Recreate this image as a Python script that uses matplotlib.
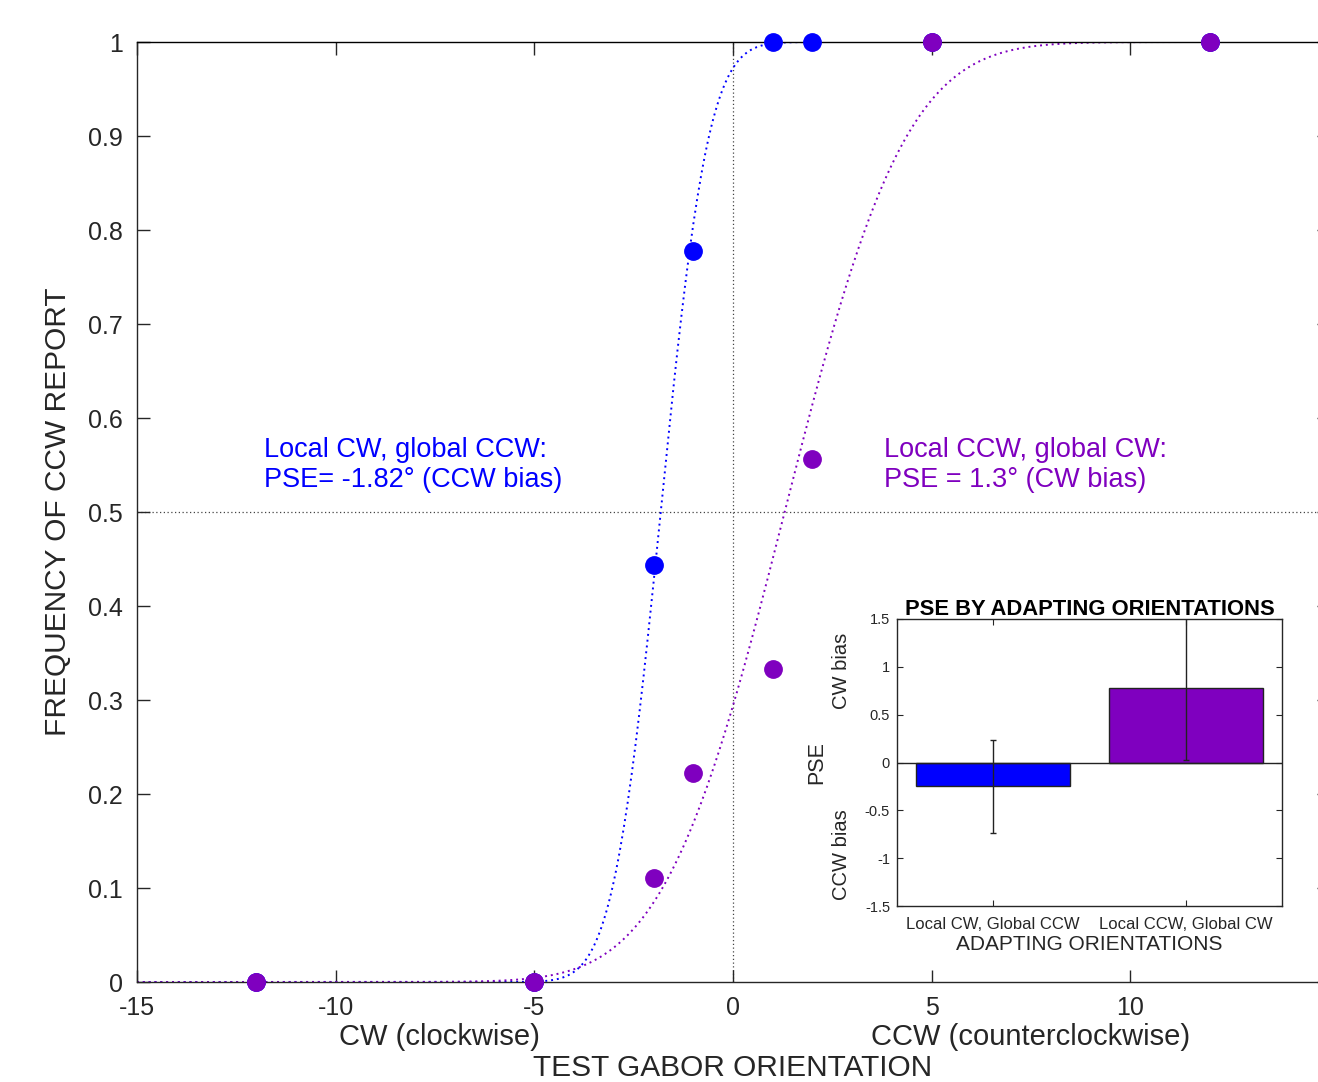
import math
import numpy as np
import matplotlib
matplotlib.use("Agg")
import matplotlib.pyplot as plt
from matplotlib.ticker import FuncFormatter
from matplotlib.transforms import blended_transform_factory

plt.rcParams['font.family'] = ['Liberation Sans', 'DejaVu Sans']
plt.rcParams['axes.unicode_minus'] = False

# test orientations (deg) and frequency of CCW reports
orient = [-12, -5, -2, -1, 1, 2, 5, 12]
freq_cw_adapt = [0, 0, 0.444, 0.778, 1, 1, 1, 1]      # local CW, global CCW
freq_ccw_adapt = [0, 0, 0.111, 0.222, 0.333, 0.556, 1, 1]  # local CCW, global CW

# fitted psychometric function parameters (PSE, slope)
pse_cw, sd_cw = -1.82, 0.95
pse_ccw, sd_ccw = 1.3, 2.4

# inset: mean PSE by adapting orientation
conds = ['Local CW, Global CCW', 'Local CCW, Global CW']
pse_mean = [-0.25, 0.78]
pse_err = [0.49, 0.75]

blue = '#0000FF'
purple = '#7F00BF'
gray = '#262626'


def cum_normal(x, mu, sd):
    return np.array([0.5 * (1 + math.erf((v - mu) / (sd * math.sqrt(2)))) for v in x])


fig = plt.figure(figsize=(13.18, 10.82), dpi=100)
ax = fig.add_axes([137 / 1318, 1 - 982 / 1082, (1329 - 137) / 1318, 940 / 1082])

xs = np.linspace(-15, 15, 601)
ax.axhline(0.5, color='#444444', lw=0.9, ls=(0, (1, 2)), zorder=1)
ax.axvline(0, color='#444444', lw=0.9, ls=(0, (1, 2)), zorder=1)
ax.plot(xs, cum_normal(xs, pse_cw, sd_cw), color=blue, lw=1.4, ls=(0, (1, 2)), zorder=2)
ax.plot(xs, cum_normal(xs, pse_ccw, sd_ccw), color=purple, lw=1.4, ls=(0, (1, 2)), zorder=2)
ax.plot(orient, freq_cw_adapt, 'o', color=blue, ms=12.5, zorder=3, clip_on=False)
ax.plot(orient, freq_ccw_adapt, 'o', color=purple, ms=12.5, zorder=4, clip_on=False)

ax.set_xlim(-15, 15)
ax.set_ylim(0, 1)
ax.set_xticks([-15, -10, -5, 0, 5, 10])
ax.set_yticks(np.arange(0, 1.01, 0.1))
ax.yaxis.set_major_formatter(FuncFormatter(lambda v, p: ('%g' % round(v, 1))))
ax.tick_params(direction='in', top=True, right=True, length=9, width=1,
               labelsize=18, colors=gray, pad=10)
for s in ax.spines.values():
    s.set_color(gray)
    s.set_linewidth(1)
ax.spines['top'].set_color('black')

ax.set_ylabel('FREQUENCY OF CCW REPORT', fontsize=21.5, color=gray, labelpad=12)

tr = blended_transform_factory(ax.transData, ax.transAxes)
ax.text(-7.4, -0.0585, 'CW (clockwise)', transform=tr, ha='center', va='center',
        fontsize=21, color=gray)
ax.text(7.5, -0.0585, 'CCW (counterclockwise)', transform=tr, ha='center', va='center',
        fontsize=21, color=gray)
ax.text(0, -0.0915, 'TEST GABOR ORIENTATION', transform=tr, ha='center', va='center',
        fontsize=21.5, color=gray)

ax.text(-11.8, 0.55, 'Local CW, global CCW:\nPSE= -1.82° (CCW bias)', color=blue,
        fontsize=19.5, ha='left', va='center', linespacing=1.2)
ax.text(3.8, 0.55, 'Local CCW, global CW:\nPSE = 1.3° (CW bias)', color=purple,
        fontsize=19.5, ha='left', va='center', linespacing=1.2)

# inset bar chart
ins = fig.add_axes([897 / 1318, 1 - 906 / 1082, 385 / 1318, 287 / 1082])
ins.bar([1, 2], pse_mean, width=0.8, color=[blue, purple], edgecolor='#222222', lw=1, zorder=2)
ins.errorbar([1, 2], pse_mean, yerr=pse_err, fmt='none', ecolor='#222222', elinewidth=1,
             capsize=2, zorder=3)
ins.axhline(0, color='#222222', lw=1, zorder=4)
ins.set_xlim(0.5, 2.5)
ins.set_ylim(-1.5, 1.5)
ins.set_xticks([1, 2])
ins.set_xticklabels(conds)
ins.set_yticks([-1.5, -1, -0.5, 0, 0.5, 1, 1.5])
ins.yaxis.set_major_formatter(FuncFormatter(lambda v, p: '%g' % v))
ins.tick_params(direction='in', top=True, right=True, length=4, width=0.8, colors=gray)
ins.tick_params(axis='y', labelsize=10.5, pad=5)
ins.tick_params(axis='x', labelsize=12, pad=8)
for s in ins.spines.values():
    s.set_color(gray)
    s.set_linewidth(1)
ins.set_title('PSE BY ADAPTING ORIENTATIONS', fontsize=15.8, fontweight='bold', pad=3)
ins.set_xlabel('ADAPTING ORIENTATIONS', fontsize=15, color=gray, labelpad=2)
ins.text(-0.208, 0.5, 'PSE', transform=ins.transAxes, rotation=90, ha='center', va='center',
         fontsize=15.5, color=gray)
ins.text(-0.143, 0.82, 'CW bias', transform=ins.transAxes, rotation=90, ha='center', va='center',
         fontsize=14.5, color=gray)
ins.text(-0.143, 0.178, 'CCW bias', transform=ins.transAxes, rotation=90, ha='center',
         va='center', fontsize=14.5, color=gray)

fig.savefig('out.png', dpi=100)
